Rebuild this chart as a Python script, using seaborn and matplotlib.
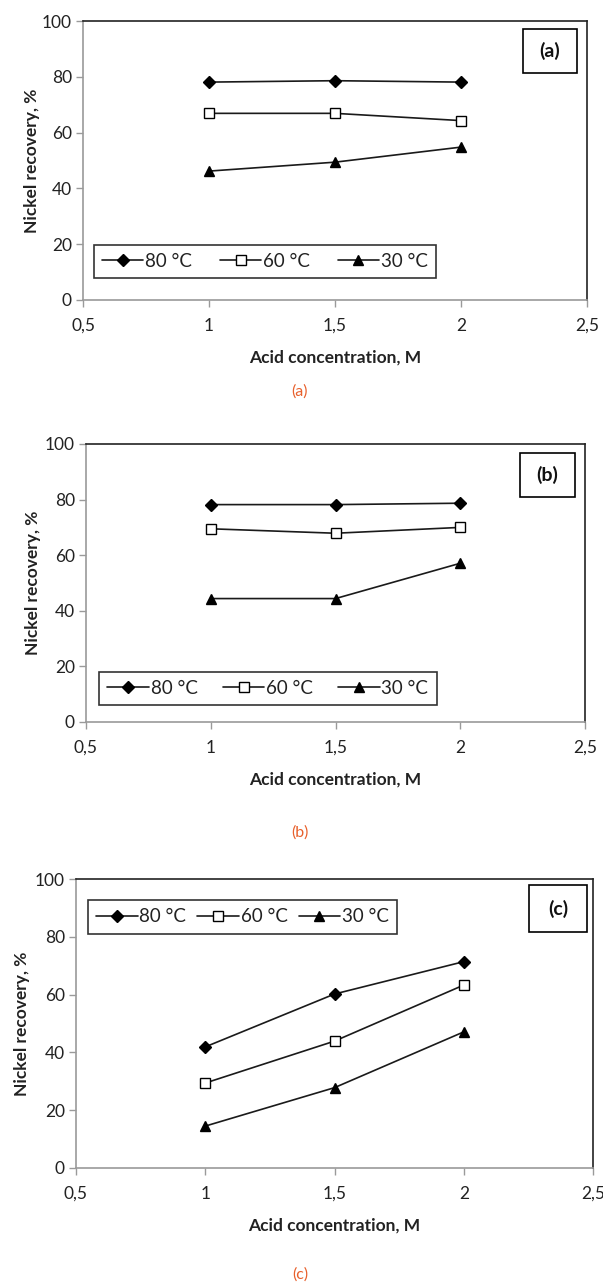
import matplotlib
matplotlib.use("Agg")
from matplotlib import pyplot as plt
from matplotlib.patches import Rectangle
import seaborn as sns
import pandas as pd

# acid concentration (M) and nickel recovery (%) for each panel
conc = [1.0, 1.5, 2.0]
series_names = ["80 °C", "60 °C", "30 °C"]

rec_a_80 = [78.1, 78.6, 78.1]
rec_a_60 = [66.9, 66.9, 64.3]
rec_a_30 = [46.2, 49.4, 54.8]

rec_b_80 = [78.2, 78.2, 78.7]
rec_b_60 = [69.5, 67.9, 70.0]
rec_b_30 = [44.4, 44.4, 57.1]

rec_c_80 = [41.9, 60.2, 71.4]
rec_c_60 = [29.4, 43.9, 63.3]
rec_c_30 = [14.5, 27.8, 47.1]

x_ticks = [0.5, 1.0, 1.5, 2.0, 2.5]
x_tick_labels = ["0,5", "1", "1,5", "2", "2,5"]
y_ticks = [0, 20, 40, 60, 80, 100]
panel_tags = ["(a)", "(b)", "(c)"]

sns.set_theme(style="white")
plt.rcParams['font.family'] = ['Lato', 'DejaVu Sans']

W, H = 603, 1283
fig = plt.figure(figsize=(W / 100, H / 100), dpi=100)

markers = ['D', 's', '^']
msizes = [6.5, 7.5, 7.5]
faces = ['black', 'white', 'black']


def panel(rect_px, data, tag, leg_box, tag_box, ylab_off, caption_y):
    left, top, right, bottom = rect_px
    w, h = right - left, bottom - top
    ax = fig.add_axes([left / W, 1 - bottom / H, w / W, h / H])
    df = pd.DataFrame({
        'conc': conc * 3,
        'rec': data[0] + data[1] + data[2],
        'series': sum([[n] * 3 for n in series_names], []),
    })
    for i, name in enumerate(series_names):
        sub = df[df['series'] == name]
        sns.lineplot(data=sub, x='conc', y='rec', ax=ax, color='#1a1a1a',
                     lw=1.2, marker=markers[i], markersize=msizes[i],
                     markerfacecolor=faces[i], markeredgecolor='black',
                     markeredgewidth=1.0, label=name)
    ax.set_xlim(0.5, 2.5)
    ax.set_ylim(0, 100)
    ax.set_xticks(x_ticks)
    ax.set_xticklabels(x_tick_labels)
    ax.set_yticks(y_ticks)
    ax.tick_params(axis='both', direction='out', length=5, width=1,
                   color='#9a9a9a', labelsize=12.5, labelcolor='#222222',
                   pad=3, bottom=True, left=True)
    ax.tick_params(axis='x', pad=8)
    for s in ['top', 'right']:
        ax.spines[s].set_color('#222222')
        ax.spines[s].set_linewidth(1.2)
    for s in ['left', 'bottom']:
        ax.spines[s].set_color('#9a9a9a')
        ax.spines[s].set_linewidth(1.2)
    ax.set_xlabel("Acid concentration, M", fontsize=12.5, fontweight='bold',
                  color='#222222')
    ax.xaxis.set_label_coords(0.5, -50 / h)
    ax.set_ylabel("Nickel recovery, %", fontsize=12.5, fontweight='bold',
                  color='#222222')
    ax.yaxis.set_label_coords(-ylab_off / w, 0.5)

    x0, y0, x1, y1 = leg_box
    leg = ax.legend(loc='center', bbox_to_anchor=(x0, y0, x1 - x0, y1 - y0),
                    mode='expand', ncol=3, frameon=True, fontsize=13.5,
                    handlelength=2.2, handletextpad=0.1, columnspacing=0.8,
                    borderpad=0.45, fancybox=False, borderaxespad=0)
    leg.get_frame().set_edgecolor('black')
    leg.get_frame().set_linewidth(1.2)
    for t in leg.get_texts():
        t.set_color('#222222')

    bx0, by0, bx1, by1 = tag_box
    ax.add_patch(Rectangle((bx0, by0), bx1 - bx0, by1 - by0,
                           transform=ax.transAxes, fill=True, facecolor='white',
                           edgecolor='black', lw=1.2, zorder=5))
    ax.text((bx0 + bx1) / 2, (by0 + by1) / 2, tag, transform=ax.transAxes,
            ha='center', va='center', fontsize=14, fontweight='bold',
            color='#111111', zorder=6)

    fig.text(300 / W, 1 - caption_y / H, tag, ha='center', va='center',
             fontsize=11.5, color='#e8602c')
    return ax


panel((83, 21, 587, 300), [rec_a_80, rec_a_60, rec_a_30], panel_tags[0],
      (0.021, 0.072, 0.701, 0.204), (0.873, 0.814, 0.980, 0.971), 43, 392)
panel((86, 444, 585, 722), [rec_b_80, rec_b_60, rec_b_30], panel_tags[1],
      (0.026, 0.047, 0.703, 0.194), (0.870, 0.809, 0.980, 0.968), 45, 833)
panel((76, 879, 593, 1168), [rec_c_80, rec_c_60, rec_c_30], panel_tags[2],
      (0.023, 0.792, 0.621, 0.948), (0.876, 0.817, 0.988, 0.979), 46, 1275)

fig.savefig("out.png", dpi=100)
